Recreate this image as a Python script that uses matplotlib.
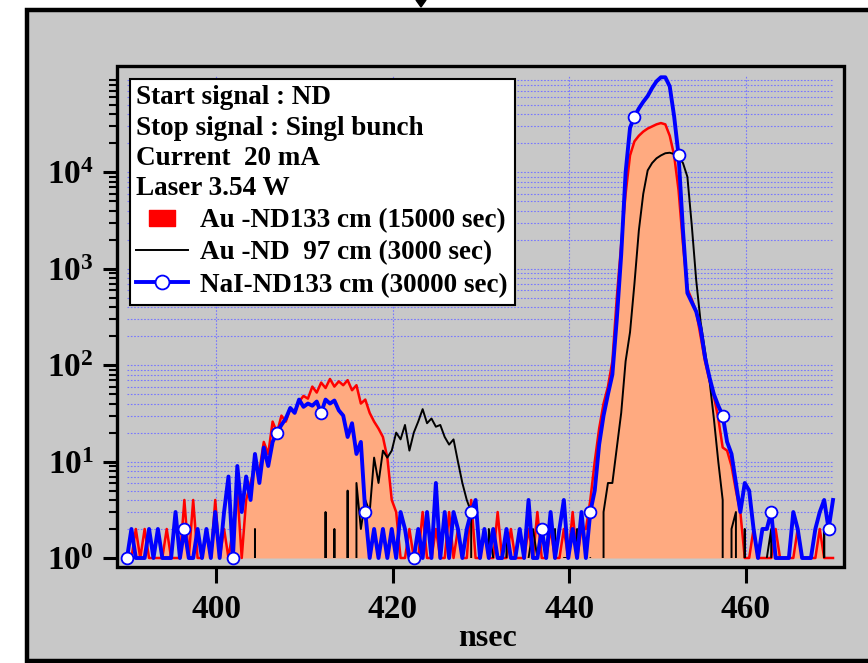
import numpy as np
import matplotlib
matplotlib.use('Agg')
import matplotlib.pyplot as plt
from matplotlib.lines import Line2D
from matplotlib.patches import Rectangle, Polygon
from matplotlib.ticker import FixedLocator, FixedFormatter, LogLocator, NullFormatter

plt.rcParams['font.family'] = ['Liberation Serif', 'DejaVu Serif']
plt.rcParams['font.weight'] = 'bold'
plt.rcParams['mathtext.default'] = 'regular'

# time bins (nsec), 0.5 ns wide
nsec = 389.9 + 0.5 * np.arange(161)

# Au - ND 133 cm (15000 sec), filled
au133 = [1, 1, 2, 1, 2, 1, 1, 1, 1, 2,
         1, 1, 1, 4, 1, 4, 1, 1, 2, 1,
         4, 1, 2, 1, 2, 5, 1, 4, 6, 9,
         8, 16, 12, 26, 20, 30, 26, 36, 33, 42,
         48, 45, 60, 52, 66, 58, 72, 60, 68, 62,
         70, 55, 62, 40, 44, 32, 26, 22, 18, 11,
         4, 3, 1, 1, 2, 1, 1, 3, 1, 1,
         2, 1, 1, 3, 1, 2, 1, 1, 4, 1,
         1, 2, 1, 1, 3, 1, 1, 2, 1, 1,
         1, 2, 1, 3, 1, 1, 2, 1, 1, 2,
         1, 3, 1, 2, 2, 4, 10, 22, 40, 60,
         110, 500, 1800, 6000, 15000, 21000, 24000, 26500, 28500, 30000,
         31500, 32500, 31500, 24000, 15000, 6500, 1800, 620, 480, 360,
         200, 110, 70, 48, 28, 14, 13, 9, 5, 3,
         1, 1, 2, 1, 1, 1, 1, 2, 1, 1,
         1, 1, 2, 1, 1, 1, 1, 2, 1, 1,
         1]

# Au - ND 97 cm (3000 sec)
au97 = [0, 0, 0, 0, 0, 0, 0, 0, 0, 0,
        0, 0, 0, 0, 0, 0, 0, 0, 0, 0,
        0, 0, 0, 0, 0, 0, 0, 0, 0, 2,
        0, 0, 0, 0, 0, 0, 0, 0, 0, 0,
        0, 0, 0, 0, 0, 3, 0, 2, 0, 0,
        5, 0, 6, 2, 4, 3, 11, 6, 13, 11,
        13, 20, 17, 24, 13, 20, 26, 35, 25, 28,
        23, 24, 18, 15, 17, 10, 6, 4, 3, 0,
        1, 0, 2, 1, 0, 1, 2, 0, 1, 0,
        0, 1, 2, 1, 0, 1, 0, 2, 0, 1,
        1, 0, 2, 0, 0, 1, 0, 0, 3, 6,
        6, 14, 32, 110, 220, 700, 2500, 6000, 10500, 12500,
        14000, 15000, 15800, 16000, 15500, 14500, 12500, 9000, 2800, 760,
        280, 140, 70, 28, 10, 4, 0, 2, 3, 0,
        2, 0, 0, 0, 0, 1, 2, 0, 0, 0,
        0, 0, 0, 0, 0, 0, 0, 0, 2, 0,
        0]

# NaI - ND 133 cm (30000 sec)
nai133 = [1, 2, 1, 1, 1, 2, 1, 2, 1, 1,
          1, 3, 1, 2, 1, 1, 2, 1, 2, 1,
          3, 1, 3, 7, 1, 9, 3, 7, 4, 12,
          6, 14, 9, 16, 20, 24, 28, 36, 32, 44,
          37, 40, 38, 42, 32, 44, 40, 43, 34, 30,
          18, 25, 12, 16, 3, 1, 2, 1, 2, 1,
          2, 1, 3, 2, 1, 1, 2, 1, 3, 1,
          6, 1, 3, 1, 3, 2, 1, 2, 3, 4,
          1, 2, 1, 2, 1, 1, 2, 1, 1, 2,
          1, 4, 1, 1, 2, 1, 3, 1, 2, 4,
          1, 2, 1, 3, 1, 3, 5, 15, 30, 50,
          80, 300, 1400, 10000, 29000, 38000, 46000, 54000, 62000, 75000,
          88000, 97000, 97000, 78000, 38000, 15000, 2500, 560, 450, 360,
          240, 120, 75, 50, 38, 30, 16, 12, 6, 3,
          6, 5, 2, 1, 2, 2, 3, 1, 1, 1,
          1, 3, 2, 1, 1, 1, 2, 3, 4, 2,
          4]
nai_marks = [0, 13, 24, 34, 44, 54, 65, 78, 94, 105, 115, 125, 135, 146, 159]

labels = ['Au -ND133 cm (15000 sec)', 'Au -ND  97 cm (3000 sec)', 'NaI-ND133 cm (30000 sec)']
info = 'Start signal : ND\nStop signal : Singl bunch\nCurrent  20 mA\nLaser 3.54 W'
ytick_vals = [1, 10, 100, 1000, 10000]
ytick_labels = [r'$\mathregular{10^{%d}}$' % k for k in range(5)]

gray = '#c8c8c8'
fig = plt.figure(figsize=(8.68, 6.63), dpi=100)
fig.patch.set_facecolor('white')
W, H = 868.0, 663.0

# outer panel
fig.add_artist(Rectangle((27 / W, 2 / H), (875 - 27) / W, (661 - 9.5) / H,
                         transform=fig.transFigure, facecolor=gray,
                         edgecolor='black', lw=3.2, zorder=0))
fig.add_artist(Polygon([(416 / W, 1.0), (426 / W, 1.0), (421 / W, 1 - 7 / H)],
                       closed=True, transform=fig.transFigure, color='black'))

ax = fig.add_axes([127 / W, 1 - 558 / H, 706 / W, 482 / H])
ax.set_facecolor('none')
ax.set_yscale('log')

ax.fill_between(nsec, au133, 1, color='#ffaa80', lw=0, zorder=2)
ax.plot(nsec, au133, color='red', lw=1.8, zorder=3, clip_on=False)
ax.plot(nsec, au97, color='black', lw=1.4, zorder=4)
ax.plot(nsec, nai133, color='blue', lw=2.8, zorder=5, clip_on=False,
        marker='o', ms=8.5, mfc='white', mec='blue', mew=1.3, markevery=nai_marks)

ax.set_xlim(389.9, 469.9)
ax.set_ylim(1, 1e5)

ax.yaxis.set_major_locator(FixedLocator(ytick_vals))
ax.yaxis.set_major_formatter(FixedFormatter(ytick_labels))
ax.yaxis.set_minor_locator(LogLocator(base=10, subs=np.arange(2, 10)))
ax.yaxis.set_minor_formatter(NullFormatter())

for side in ['left', 'right', 'top', 'bottom']:
    ax.spines[side].set_position(('outward', 7))
    ax.spines[side].set_visible(False)
fig.add_artist(Rectangle((117 / W, 1 - 567 / H), (844 - 117) / W, (567 - 66) / H,
                         transform=fig.transFigure, fill=False,
                         edgecolor='black', lw=2.4, zorder=10))

ax.tick_params(axis='y', which='major', direction='out', length=10, width=2.2,
               labelsize=24, pad=7)
ax.tick_params(axis='y', which='minor', direction='out', length=5.5, width=1.5)
ax.tick_params(axis='x', which='major', direction='out', length=11, width=2.2,
               labelsize=24, pad=8)
ax.tick_params(axis='x', which='minor', bottom=False)
ax.tick_params(top=False, right=False)

grid_kw = dict(color='#7878ff', ls=(0, (1.5, 1.5)), lw=0.8)
ax.grid(True, which='major', axis='x', **grid_kw)
ax.grid(True, which='both', axis='y', **grid_kw)

ax.set_xlabel('nsec', fontsize=23, fontweight='bold', labelpad=0)
ax.xaxis.set_label_coords(0.51, -0.136)

rect_marker = [(-1, -0.6), (1, -0.6), (1, 0.6), (-1, 0.6), (-1, -0.6)]
handles = [
    Line2D([], [], ls='none', marker=rect_marker, ms=19, mfc='red', mec='red'),
    Line2D([], [], color='black', lw=1.4),
    Line2D([], [], color='blue', lw=2.8, marker='o', ms=10, mfc='white',
           mec='blue', mew=1.3),
]
leg = ax.legend(handles, labels, title=info, loc='upper left',
                bbox_to_anchor=(0, 1), borderaxespad=0.1, alignment='left',
                frameon=True, fancybox=False, edgecolor='black', framealpha=1,
                prop={'size': 19.5, 'weight': 'bold'},
                title_fontproperties={'size': 19.5, 'weight': 'bold'},
                handlelength=1.9, handletextpad=0.45, labelspacing=0.27,
                borderpad=0.25, numpoints=1)
leg.get_frame().set_linewidth(1.5)
leg.get_title().set_linespacing(1.27)
leg.set_zorder(20)

fig.savefig('out.png', dpi=100)
